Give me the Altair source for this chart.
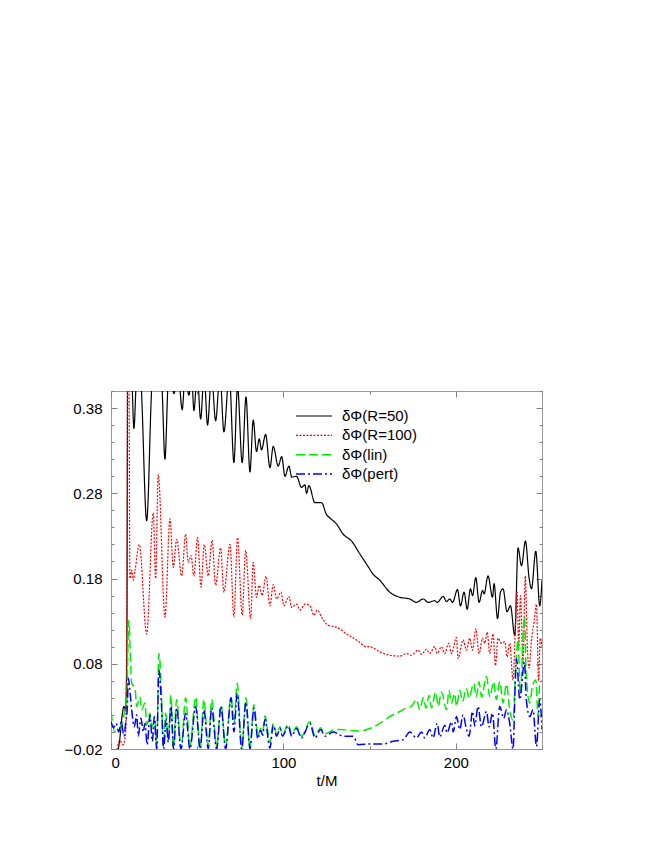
import altair as alt
import pandas as pd

# ---------------- data ----------------
t_r50 = [0, 3, 5, 6.5, 7.5, 8.5, 9.2, 9.7, 11, 12.2, 13.3, 14.9, 16.5, 17.4, 20.7, 23.9, 27, 29.4, 31.3, 33.2,
         34.8, 36.5, 39, 41.3, 43, 45.2, 46.7, 48.1, 50, 52, 54, 56, 58.3, 60.7, 63.2, 65.5, 68.6, 71.3, 73.4, 76.1,
         78.3, 80.6, 82.5, 84.4, 86, 87.3, 89.7, 92.2, 94.1, 97, 99, 100.9, 103.2, 104.8, 107.6, 110.5, 112.5, 113.4,
         114.8, 118.3, 122.1, 125, 127, 130.8, 134.7, 139.5, 144.3, 148.2, 152.1, 155.9, 161.7, 167.5, 173.3, 177.2,
         181.1, 184, 187.8, 189.2, 192.7, 194.6, 196.5, 198.1, 201, 202.7, 204.8, 206.6, 208.5, 209.7, 211.6, 213.5,
         215.5, 216.4, 218.7, 221.3, 222.2, 224.2, 225.9, 227.4, 229.7, 231.7, 234.2, 236.1, 238.1, 240.4, 242.5,
         243.9, 246.4, 248.7, 250]
v_r50 = [-0.04, -0.03, -0.01, 0.02, 0.03, 0.025, 0.1, 0.45, 0.45, 0.41, 0.356, 0.42, 0.43, 0.41, 0.248, 0.41, 0.43, 0.41, 0.32, 0.41,
         0.42, 0.397, 0.42, 0.378, 0.42, 0.395, 0.42, 0.377, 0.42, 0.367, 0.42, 0.36, 0.42, 0.365, 0.42, 0.352, 0.42, 0.316, 0.405, 0.316,
         0.393, 0.305, 0.366, 0.329, 0.344, 0.331, 0.349, 0.31, 0.335, 0.312, 0.323, 0.30, 0.312, 0.299, 0.30, 0.287, 0.29, 0.28,
         0.289, 0.269, 0.269, 0.255, 0.251, 0.244, 0.232, 0.224, 0.209, 0.197, 0.185, 0.178, 0.164, 0.158, 0.156, 0.152,
         0.156, 0.152, 0.154, 0.152, 0.159, 0.153, 0.156, 0.152, 0.167, 0.148, 0.164, 0.144, 0.168, 0.16, 0.181, 0.152,
         0.166, 0.162, 0.183, 0.158, 0.174, 0.133, 0.164, 0.168, 0.141, 0.148, 0.113, 0.216, 0.195, 0.224, 0.181,
         0.168, 0.212, 0.148, 0.178]

t_r100 = [0, 3.5, 5, 7, 8.5, 9.3, 9.7, 10.3, 11, 12, 12.9, 14, 16.4, 20.7, 24.5, 25.9, 27.4, 31.3, 34.2, 36.1,
          38.1, 41, 43.3, 44.8, 46.4, 48.1, 50.2, 52.2, 54.1, 56.4, 58.6, 60.7, 63.6, 65.5, 69, 71.3, 73.4, 76.1, 78.1, 81,
          82.5, 84.4, 86, 87.7, 89.9, 92.2, 94.1, 96.1, 98.6, 100.3, 103.2, 104.8, 107.6, 109.6, 112.5, 115.4, 117.7, 119.6,
          122.1, 126, 130.8, 136.6, 142.4, 148.2, 150.1, 155.9, 161.7, 167.5, 171.4, 174.3, 178.2, 180.1, 183, 184.9,
          187.8, 189.2, 191.7, 193.6, 195.9, 197.5, 200.4, 201.3, 204.2, 206.2, 208.1, 209.7, 211.6, 213.5, 215.5, 216.8,
          218.2, 219.7, 221.6, 223, 224.5, 226.5, 228.4, 229.7, 231.3, 233.2, 234.5, 235.5, 236.5, 237.5, 239, 240.3,
          241.5, 242.5, 244, 245.5, 246.8, 248, 249, 250]
v_r100 = [-0.04, -0.02, -0.01, -0.015, 0.0, 0.2, 0.45, 0.45, 0.18, 0.19, 0.178, 0.19, 0.22, 0.115, 0.257, 0.18, 0.302, 0.135, 0.25, 0.193,
          0.226, 0.183, 0.232, 0.199, 0.207, 0.183, 0.228, 0.17, 0.22, 0.183, 0.225, 0.172, 0.216, 0.164, 0.22, 0.135, 0.228, 0.137, 0.213, 0.133,
          0.199, 0.158, 0.172, 0.16, 0.183, 0.148, 0.173, 0.156, 0.164, 0.148, 0.159, 0.146, 0.15, 0.143, 0.15, 0.148, 0.137, 0.143,
          0.135, 0.125, 0.123, 0.115, 0.108, 0.10, 0.1, 0.094, 0.09, 0.089, 0.092, 0.09, 0.096, 0.091, 0.097, 0.092,
          0.1, 0.092, 0.1, 0.092, 0.104, 0.092, 0.111, 0.086, 0.108, 0.096, 0.11, 0.096, 0.121, 0.092, 0.11, 0.104,
          0.117, 0.092, 0.115, 0.078, 0.11, 0.104, 0.106, 0.088, 0.104, 0.061, 0.12, 0.165, 0.10, 0.16, 0.08, 0.183,
          0.10, 0.075, 0.11, 0.13, 0.15, 0.06, 0.11, 0.10]

t_lin = [0, 2.3, 5.2, 8.1, 9.3, 9.7, 10.4, 11.2, 12, 13.9, 14.9, 16.8, 17.8, 19.7, 20.7, 22.6, 23.6, 25.5, 26.5, 27.8,
         29.4, 30.3, 31.7, 33.2, 34.8, 36.1, 38.1, 40.6, 43.3, 45.8, 49.1, 51.7, 53.9, 56.4, 58.4, 61.3, 63.8, 66.5, 69.6, 71.3,
         73.2, 75.8, 78.3, 80.6, 82.9, 85.2, 86.8, 88, 89.3, 92.2, 94.1, 96.1, 98, 99.5, 102.8, 104.8, 107.6, 110.5, 115.4, 118.3,
         121.6, 124, 128.9, 132.7, 137.6, 144.3, 150.1, 155.9, 161.7, 167.5, 171.4, 174.3, 177.2, 179.1, 181.1, 182.7, 184.5, 185.9, 188.4, 189.8,
         191.7, 194.6, 196.1, 197.5, 199.4, 200.4, 202.3, 203.9, 206.2, 207.7, 210.4, 211.9, 213.5, 214.9, 217.8, 219.7, 222, 223.5, 225.5, 227.4,
         229.4, 231.3, 233.2, 234.6, 236.1, 237.4, 239.8, 240.9, 242.9, 244.4, 246.4, 247.7, 248.7, 250]
v_lin = [0.024, 0.0, 0.003, 0.026, 0.04, 0.09, 0.131, 0.09, 0.057, 0.052, 0.03, 0.041, 0.026, 0.034, 0.008, 0.022, 0.006, 0.014, -0.02, 0.092,
         0.038, -0.017, 0.022, -0.009, 0.043, -0.019, 0.038, -0.02, 0.04, -0.017, 0.041, -0.02, 0.038, -0.017, 0.038, -0.017, 0.032, -0.017, 0.041, 0.01,
         0.057, -0.02, 0.04, -0.02, 0.032, -0.005, 0.004, 0.0, 0.019, -0.012, 0.01, -0.003, 0.006, -0.003, 0.009, -0.003, 0.006, -0.005, 0.012, -0.004,
         0.005, -0.002, 0.002, 0.003, 0.002, 0.001, 0.004, 0.01, 0.018, 0.024, 0.028, 0.03, 0.038, 0.026, 0.04, 0.028, 0.043, 0.028, 0.047, 0.03,
         0.047, 0.026, 0.049, 0.034, 0.045, 0.03, 0.049, 0.036, 0.051, 0.04, 0.057, 0.041, 0.059, 0.041, 0.065, 0.041, 0.059, 0.038, 0.059, 0.034,
         0.056, 0.026, 0.014, 0.069, 0.108, 0.045, 0.135, 0.065, 0.034, 0.053, 0.061, 0.018, 0.057, 0.06]

t_pert = [0, 1.5, 3, 4.5, 6, 7.5, 8.5, 9.5, 10, 11.3, 12, 13.5, 14.9, 15.8, 17.4, 18.7, 19.7, 21, 22.6, 24,
          25.1, 26.5, 27.8, 29.4, 30.5, 32, 33.2, 34.8, 36.3, 38.1, 40.6, 43.3, 45.8, 49.1, 51.7, 53.9, 56.4, 58.4, 61.3, 63.8,
          66.5, 69.6, 71.3, 73.2, 75.8, 78.3, 80.6, 82.9, 85.2, 86.8, 88, 89.3, 92.2, 94.1, 96.1, 98, 99.5, 102.8, 104.8, 107.6,
          110.5, 115.4, 118.3, 121.6, 124, 128.9, 134.7, 140.5, 143.4, 150.1, 157.9, 163.7, 169.5, 173.3, 177.2, 180.1, 182, 184.9, 186.8, 189.2,
          190.7, 193.6, 195, 197.5, 198.5, 200.4, 202.3, 204.2, 206.2, 207.7, 209.7, 211, 212.9, 214.9, 217.8, 219.3, 221.3, 223.2, 225.5, 227.8,
          229.4, 231.3, 233.2, 234.6, 235.2, 237.1, 239.8, 240.9, 242.9, 244.8, 246.8, 248.7, 250]
v_pert = [0.012, 0.005, 0.01, 0.0, 0.012, -0.005, 0.01, 0.03, 0.063, 0.041, 0.026, 0.006, 0.02, -0.005, 0.016, 0.0, 0.01, -0.015, 0.02, -0.011,
          0.018, -0.02, 0.073, 0.026, -0.02, 0.015, -0.012, 0.03, -0.02, 0.028, -0.02, 0.022, -0.02, 0.03, -0.02, 0.026, -0.02, 0.028, -0.02, 0.03,
          -0.02, 0.04, 0.0, 0.045, -0.02, 0.035, -0.02, 0.028, -0.008, 0.002, -0.004, 0.015, -0.019, 0.008, -0.005, 0.004, -0.005, 0.007, -0.005, 0.004,
          -0.007, 0.01, -0.007, 0.003, -0.005, 0.0, -0.005, -0.005, -0.015, -0.014, -0.014, -0.011, -0.009, 0.0, -0.007, 0.0, -0.007, 0.003, -0.007, 0.01,
          -0.006, 0.008, -0.001, 0.012, 0.0, 0.018, 0.003, 0.02, 0.003, -0.005, 0.024, 0.007, 0.03, 0.006, 0.024, 0.006, 0.022, -0.02, 0.03, 0.016,
          0.026, 0.01, -0.02, 0.065, 0.086, 0.038, 0.082, 0.038, 0.018, 0.026, -0.017, 0.038, 0.003]

series_labels = ["\u03b4\u03a6(R=50)", "\u03b4\u03a6(R=100)", "\u03b4\u03a6(lin)", "\u03b4\u03a6(pert)"]
series_colors = ["#000000", "#ff0000", "#00ee00", "#0000ff"]
series_dash = [[1, 0], [2, 1.5], [9, 4], [9, 3, 2, 3]]
series_width = [1.2, 1.2, 1.5, 1.5]

x_major = [0, 100, 200]
x_minor = [50, 150, 250]
y_major = [-0.02, 0.08, 0.18, 0.28, 0.38]
y_minor = [round(-0.02 + 0.02 * i, 2) for i in range(22)]

FONT = "Liberation Sans"
TICK = "#808080"

xs = alt.Scale(domain=[0, 250], nice=False, zero=False)
ys = alt.Scale(domain=[-0.02, 0.40], nice=False, zero=False)

series = [(t_r50, v_r50), (t_r100, v_r100), (t_lin, v_lin), (t_pert, v_pert)]

layers = []
for i, (tt, vv) in enumerate(series):
    df = pd.DataFrame({"t": tt, "v": vv})
    if i == 0:
        xa = alt.Axis(orient="bottom", values=x_major, ticks=False, domain=False, grid=False,
                      labelPadding=6, labelFontSize=15, labelFont=FONT, labelColor="black",
                      title="t/M", titleFontSize=15, titleFont=FONT, titleFontWeight="normal",
                      titleColor="black", titlePadding=3)
        ya = alt.Axis(orient="left", values=y_major, format=".2f",
                      labelExpr="replace(datum.label, '-', '\u2212')",
                      ticks=False, domain=False, grid=False, labelPadding=9,
                      labelFontSize=15, labelFont=FONT, labelColor="black", title=None)
    else:
        xa = None
        ya = None
    layers.append(
        alt.Chart(df).mark_line(color=series_colors[i], strokeDash=series_dash[i],
                                strokeWidth=series_width[i], clip=True, interpolate="monotone")
        .encode(x=alt.X("t:Q", scale=xs, axis=xa), y=alt.Y("v:Q", scale=ys, axis=ya))
    )

def tick_axis(orient, values, size):
    return alt.Axis(orient=orient, values=values, tickSize=size, offset=-size, labels=False,
                    domain=False, grid=False, title=None, tickColor=TICK, tickWidth=1)

dummy = pd.DataFrame({"t": [0.0], "v": [0.0]})
for (xo, yo) in [("bottom", "left"), ("top", "right")]:
    for (xv, yv, sz) in [(x_major, y_major, 6), (x_minor, y_minor, 3)]:
        layers.append(
            alt.Chart(dummy).mark_point(opacity=0).encode(
                x=alt.X("t:Q", scale=xs, axis=tick_axis(xo, xv, sz)),
                y=alt.Y("v:Q", scale=ys, axis=tick_axis(yo, yv, sz)),
            )
        )

# legend (inside the plot, upper right)
leg_x0, leg_x1, leg_tx = 185, 221, 231
leg_rows = [25, 44.3, 63.7, 83]
for i, lab in enumerate(series_labels):
    ldf = pd.DataFrame({"label": [lab]})
    layers.append(
        alt.Chart(ldf).mark_rule(color=series_colors[i], strokeDash=series_dash[i],
                                 strokeWidth=series_width[i])
        .encode(x=alt.value(leg_x0), x2=alt.value(leg_x1), y=alt.value(leg_rows[i]))
    )
    layers.append(
        alt.Chart(ldf).mark_text(align="left", baseline="middle", fontSize=15, font=FONT, color="black")
        .encode(x=alt.value(leg_tx), y=alt.value(leg_rows[i]), text="label:N")
    )

chart = (
    alt.layer(*layers)
    .resolve_axis(x="independent", y="independent")
    .properties(width=431, height=358,
                padding={"left": 103, "top": 383, "right": 100, "bottom": 80},
                autosize=alt.AutoSizeParams(type="none"))
    .configure_view(stroke="#999999", strokeWidth=1)
)

chart.save("out.html", embed_options={"renderer": "svg", "actions": False})
